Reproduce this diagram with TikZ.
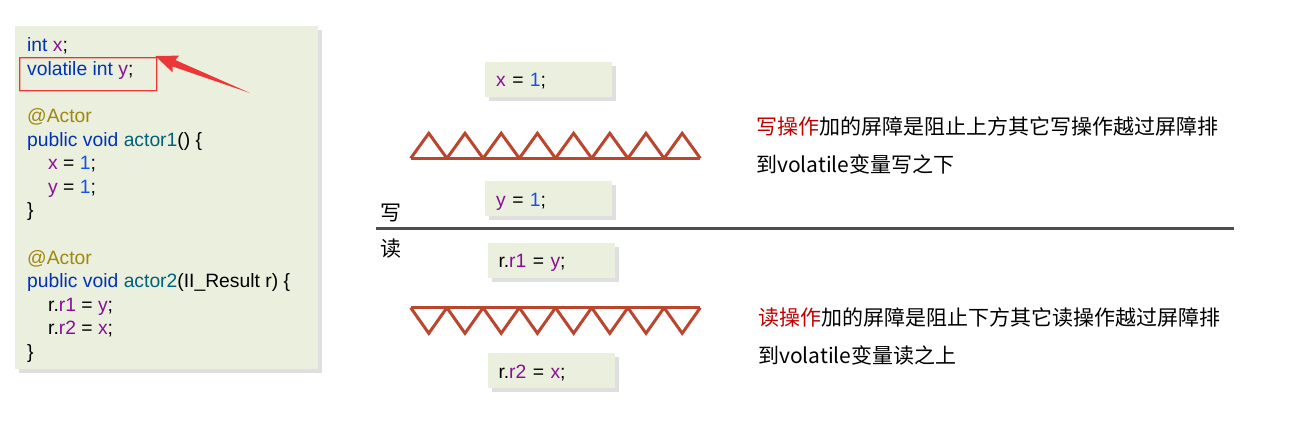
\documentclass[tikz,border=0pt]{standalone}
\usepackage{fontspec}
\usepackage{xcolor}
\usepackage{tikz}
\usetikzlibrary{
    calc,
    positioning,
    shadows
}

\newfontfamily\codefont{Liberation Sans}
\newfontfamily\cjkfont{Noto Sans CJK SC}

\definecolor{panelbg}{RGB}{235,239,222}
\definecolor{kwblue}{RGB}{0,51,179}
\definecolor{varpurple}{RGB}{135,16,148}
\definecolor{numblue}{RGB}{23,80,235}
\definecolor{annolive}{RGB}{158,136,13}
\definecolor{funteal}{RGB}{0,98,122}
\definecolor{notered}{RGB}{192,0,0}
\definecolor{arrowred}{RGB}{235,55,55}
\definecolor{barrierred}{RGB}{185,70,45}
\definecolor{divgray}{RGB}{77,77,77}

\newcommand{\ckw}[1]{\textcolor{kwblue}{#1}}
\newcommand{\cvar}[1]{\textcolor{varpurple}{#1}}
\newcommand{\cnum}[1]{\textcolor{numblue}{#1}}
\newcommand{\cann}[1]{\textcolor{annolive}{#1}}
\newcommand{\cfun}[1]{\textcolor{funteal}{#1}}

\begin{document}
\begin{tikzpicture}[
x=1pt, y=-1pt,
panel/.style={
fill=panelbg,
inner sep=0pt,
drop shadow={shadow xshift=4pt, shadow yshift=-4pt, opacity=0.25}
},
codeline/.style={
anchor=base west,
inner sep=0pt,
font=\codefont\fontsize{19.3}{23.6}\selectfont
},
codebox/.style={
panel,
minimum height=35pt,
text width=105pt,
inner xsep=11pt,
inner ysep=0pt,
text height=15pt,
text depth=0pt,
align=left,
font=\codefont\fontsize{19.3}{23.6}\selectfont
},
markbox/.style={
inner sep=0pt
},
barrier/.style={
draw=barrierred,
line width=3pt
},
note/.style={
inner sep=0pt,
align=left,
font=\cjkfont\fontsize{21}{37.5}\selectfont
}
]
\useasboundingbox (0,0) rectangle (1315,429);

% code panel on the left
\node[panel, minimum width=303pt, minimum height=343pt,
anchor=north west] (codepanel) at (15,26) {};

\foreach \i/\d/\txt in {
1/0/{\ckw{int} \cvar{x};},
2/0/{\ckw{volatile int} \cvar{y};},
4/0/{\cann{@Actor}},
5/0/{\ckw{public void} \cfun{actor1}() \{},
6/21/{\cvar{x} = \cnum{1};},
7/21/{\cvar{y} = \cnum{1};},
8/0/{\}},
10/0/{\cann{@Actor}},
11/0/{\ckw{public void} \cfun{actor2}(II\_Result r) \{},
12/21/{r.\cvar{r1} = \cvar{y};},
13/21/{r.\cvar{r2} = \cvar{x};},
14/0/{\}}
}
\node[codeline] (ln\i) at ({27+\d},{51.7+23.6*(\i-1)}) {\txt};

% red frame round the volatile line
\node[markbox, minimum width=138pt, minimum height=34pt,
anchor=north west] (volbox) at (19,57) {};
\fill[arrowred, even odd rule]
(volbox.north west) rectangle (volbox.south east)
($(volbox.north west)+(1.3,1.3)$) rectangle ($(volbox.south east)+(-1.3,-1.3)$);

% tapered arrow pointing at the volatile line
\coordinate (arrowtail) at (250,93);
\coordinate (arrowtip) at ($(volbox.north east)+(-2,-1)$);
\fill[arrowred] (arrowtail)
-- ($(arrowtip)!20pt!(arrowtail)!3.5pt!90:(arrowtip)$)
-- ($(arrowtip)!22pt!(arrowtail)!9pt!90:(arrowtip)$)
-- (arrowtip)
-- ($(arrowtip)!22pt!(arrowtail)!9pt!-90:(arrowtip)$)
-- ($(arrowtip)!20pt!(arrowtail)!3.5pt!-90:(arrowtip)$)
-- cycle;

% write side
\node[codebox, anchor=north west] (xbox) at (485,61.7)
{\cvar{x} = \cnum{1};};
\node[codebox, below=84pt of xbox] (ybox)
{\cvar{y} = \cnum{1};};

\draw[barrier] (410.7,158.3) -- (700.3,158.3);
\foreach \k in {0,...,7}
\draw[barrier] ({410.7+36.2*\k},158.3) -- ++(18.1,-25) -- ++(18.1,25);

% divider
\coordinate (divleft) at (376,228.3);
\coordinate (divright) at (1234,228.3);
\draw[divgray, line width=3pt] (divleft) -- (divright);

\node[note] (wlabel) at (390.5,213) {写};
\node[note] (rlabel) at (390.5,248.5) {读};

% read side
\node[codebox, anchor=north west] (r1box) at (487.3,242.7)
{r.\cvar{r1} = \cvar{y};};
\node[codebox, below=75pt of r1box] (r2box)
{r.\cvar{r2} = \cvar{x};};

\draw[barrier] (410.7,307.7) -- (700.3,307.7);
\foreach \k in {0,...,7}
\draw[barrier] ({410.7+36.2*\k},307.7) -- ++(18.1,25.6) -- ++(18.1,-25.6);

% notes
\node[note, anchor=west] (wnote) at (756,145.25)
{\textcolor{notered}{写操作}加的屏障是阻止上方其它写操作越过屏障排\\到volatile变量写之下};
\node[note, anchor=west] (rnote) at (758,336.25)
{\textcolor{notered}{读操作}加的屏障是阻止下方其它读操作越过屏障排\\到volatile变量读之上};

\end{tikzpicture}
\end{document}
